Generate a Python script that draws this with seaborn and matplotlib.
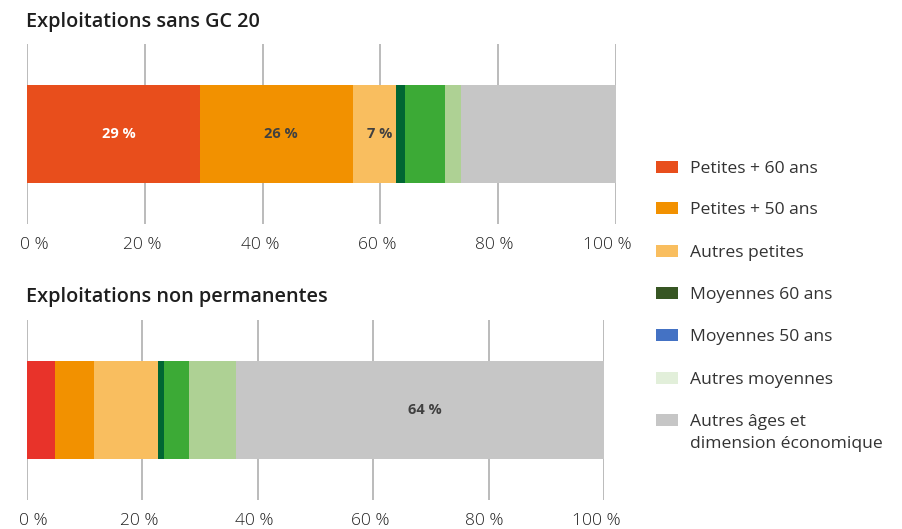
import matplotlib
matplotlib.use("Agg")
import matplotlib.pyplot as plt
from matplotlib.patches import Rectangle
from matplotlib.transforms import ScaledTranslation
import seaborn as sns
import pandas as pd

# Segments, in stacking order
categories = [
    "Petites + 60 ans",
    "Petites + 50 ans",
    "Autres petites",
    "Moyennes 60 ans",
    "Moyennes 50 ans",
    "Autres moyennes",
    "Autres âges et\ndimension économique",
]

# Shares (%) for each farm group
sans_gc20 = [29.4, 25.9, 7.4, 1.5, 6.7, 2.8, 26.3]
non_permanentes = [4.9, 6.8, 11.0, 1.1, 4.3, 8.2, 63.7]

# Which segments carry a value label
labelled_sans_gc20 = [True, True, True, False, False, False, False]
labelled_non_perm = [False, False, False, False, False, False, True]

titles = ["Exploitations sans GC 20", "Exploitations non permanentes"]
tick_values = [0, 20, 40, 60, 80, 100]
tick_labels = ["0 %", "20 %", "40 %", "60 %", "80 %", "100 %"]

colors_top = ["#e84e1c", "#f29100", "#f9be5f", "#006633", "#3caa36", "#aed194", "#c6c6c6"]
colors_bottom = ["#e8332a", "#f29100", "#f9be5f", "#006633", "#3caa36", "#aed194", "#c6c6c6"]
legend_colors = ["#e84e1c", "#f29100", "#f9be5f", "#375623", "#4472c4", "#e2efda", "#c6c6c6"]

sns.set_style("white")
plt.rcParams["font.family"] = ["Open Sans", "DejaVu Sans"]
TEXT = "#333333"

W, H = 903, 529
fig = plt.figure(figsize=(W / 100, H / 100), dpi=100)

# horizontal nudges (px) keeping the end labels inside the plot
tick_nudge = [7, -3, -3, -3, -4, -8]


def px_axes(left, top, right, bottom):
    return fig.add_axes([left / W, 1 - bottom / H, (right - left) / W, (bottom - top) / H])


def stacked(ax, values, colors, labelled, first_label_white):
    df = pd.DataFrame({"segment": categories, "value": values})
    df["end"] = df["value"].cumsum()
    df["row"] = "total"
    # draw cumulative bars from the longest to the shortest so each
    # segment shows between its predecessor's end and its own end
    for i in reversed(range(len(df))):
        sns.barplot(data=df.iloc[[i]], x="end", y="row", color=colors[i],
                    saturation=1, width=0.54, errorbar=None, orient="h",
                    linewidth=0, ax=ax)
    for i, row in df.iterrows():
        if labelled[i]:
            col = "white" if (i == 0 and first_label_white) else "#404040"
            ax.text(row["end"] - row["value"] / 2 + 0.8, 0, f"{row['value']:.0f} %",
                    ha="center", va="center", fontsize=10.5, fontweight="bold",
                    color=col)
    ax.set_xlim(0, 100)
    ax.set_ylim(0.5, -0.5)
    ax.set_xticks(tick_values, tick_labels)
    ax.set_yticks([])
    ax.set_xlabel("")
    ax.set_ylabel("")
    ax.grid(axis="x", color="#b5b5b5", linewidth=1.3)
    ax.set_axisbelow(True)
    for s in ax.spines.values():
        s.set_visible(False)
    ax.tick_params(axis="x", length=0, pad=9.5, labelsize=12.5, labelcolor="#222222")
    for lab, dx in zip(ax.get_xticklabels(), tick_nudge):
        lab.set_fontweight("light")
        lab.set_transform(lab.get_transform() +
                          ScaledTranslation(dx / 100, 0, fig.dpi_scale_trans))


ax1 = px_axes(27.5, 44, 615.7, 224)
stacked(ax1, sans_gc20, colors_top, labelled_sans_gc20, True)
ax2 = px_axes(26.7, 320, 604, 500)
stacked(ax2, non_permanentes, colors_bottom, labelled_non_perm, False)

fig.text(26 / W, 1 - 22 / H, titles[0], ha="left", va="center",
         fontsize=14.3, fontweight="semibold", color="#1e1e1e")
fig.text(26 / W, 1 - 297 / H, titles[1], ha="left", va="center",
         fontsize=14.3, fontweight="semibold", color="#1e1e1e")

# legend: colour squares with their captions, one line at a time
legend_y = [167, 208, 251, 293, 335, 378, 420]
line_gap = 22
for y, c, name in zip(legend_y, legend_colors, categories):
    fig.patches.append(Rectangle((656 / W, 1 - (y + 6) / H), 22 / W, 12 / H,
                                 transform=fig.transFigure, facecolor=c,
                                 edgecolor="none"))
    for k, line in enumerate(name.split("\n")):
        fig.text(690 / W, 1 - (y + 6 + k * line_gap) / H, line, ha="left",
                 va="baseline", fontsize=12.6, color=TEXT)

fig.savefig("out.png", dpi=100)
